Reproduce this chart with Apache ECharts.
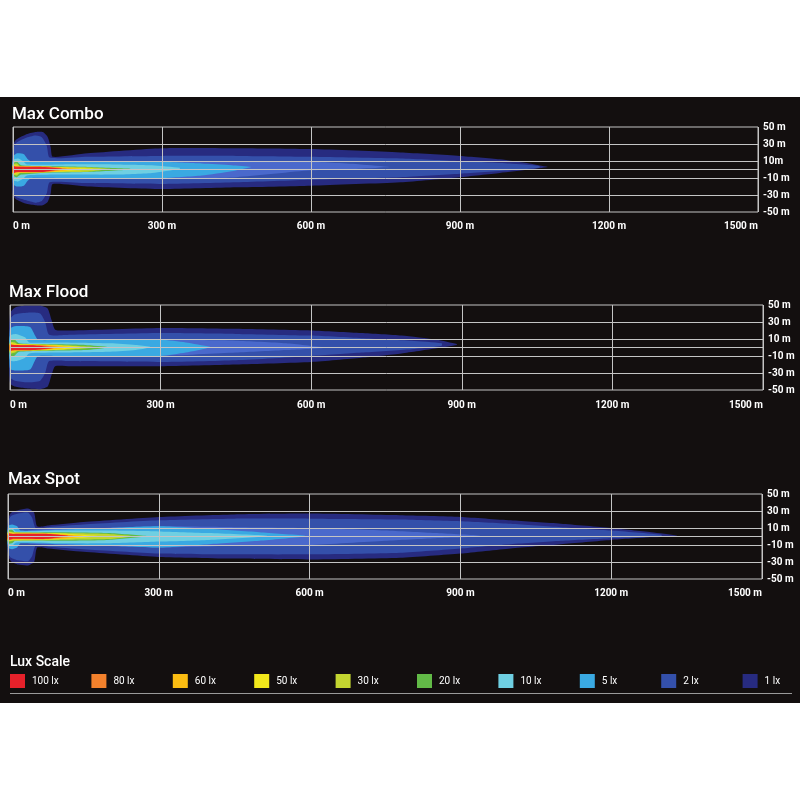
<!DOCTYPE html>
<html lang="en">
<head>
<meta charset="UTF-8">
<title>Beam pattern</title>
<style>
    body { margin: 0; background: #fff; }
    #chart { position: absolute; left: 0; top: 97px; width: 800px; height: 606px; }
</style>
</head>
<body>
<div id="chart"></div>
<script src="https://cdn.jsdelivr.net/npm/echarts@6/dist/echarts.min.js"></script>
<script>
// panel titles and axis labels
const panelTitles = ['Max Combo', 'Max Flood', 'Max Spot'];
const heightLines = [30, 10, 0, -10, -30];
const heightLabelValues = [50, 30, 10, -10, -30, -50];
const comboHeightText = ['50 m', '30 m', '10m', '-10 m', '-30 m', '-50 m'];
const otherHeightText = ['50 m', '30 m', '10 m', '-10 m', '-30 m', '-50 m'];

// contour levels, outermost first ("3 lx" is the light band that is not in the scale)
const luxNames = ['1 lx', '2 lx', '3 lx', '5 lx', '10 lx', '20 lx', '30 lx', '50 lx', '60 lx', '80 lx', '100 lx'];
const luxColors = ['#272b80', '#3450aa', '#4a69cc', '#3aa9e2', '#6fcfe2', '#62ba47', '#c3d530', '#f2e81b', '#fbbd12', '#f3812c', '#e6212a'];
const legendNames = ['100 lx', '80 lx', '60 lx', '50 lx', '30 lx', '20 lx', '10 lx', '5 lx', '2 lx', '1 lx'];

// each contour: [distance m, upper edge m, lower edge m]
const comboBeam = [
    [[0,28,-30],[6,35,-35],[25,41,-40],[45,44,-42],[60,44,-42],[70,38,-38],[76,26,-28],[80,15,-17],[150,19,-20],[300,25,-23],[450,25,-21],[600,24,-19],[780,20,-15],[900,16,-9],[980,12,-4],[1040,7,0],[1077,3,3]],
    [[0,24,-26],[6,31,-32],[25,37,-36],[45,40,-39],[58,38,-37],[68,28,-28],[74,14,-15],[150,15,-16],[300,16,-17],[450,16,-15],[600,15,-12],[780,13,-9],[900,10,-5],[1000,7,-1],[1060,4,2]],
    [[40,8,-9],[150,9,-10],[300,10,-11],[450,10,-9],[600,9,-1],[700,6,1],[760,3,3]],
    [[0,15,-17],[8,19,-20],[22,18,-19],[30,12,-13],[38,9,-10],[100,9,-10],[200,9,-10],[300,9,-10],[380,7,-7],[440,5,-2],[480,3,3]],
    [[0,11,-12],[10,13,-14],[20,10,-11],[28,6,-7],[100,6,-6],[200,6,-6],[280,5,-4],[336,2,1]],
    [[0,7,-8],[8,9,-9],[16,5,-6],[60,4,-4],[150,3,-3],[236,1,0]],
    [[0,6,-6],[8,7,-7],[14,4,-4],[80,3,-3],[150,2.5,-2.5],[195,1,0.5]],
    [[0,5,-5],[10,4,-4],[80,3,-3],[162,1,0.5]],
    [[0,4.5,-4.5],[10,3.5,-3.5],[80,3,-2.8],[135,1,0.5]],
    [[0,4,-4.5],[10,3.4,-3.2],[70,3.2,-2.8],[108,1,0.5]],
    [[0,3.8,-4.5],[6,3.2,-3],[60,3,-2.8],[98,1,0.5]]
];
const floodBeam = [
    [[0,40,-42],[10,47,-46],[30,49,-48],[60,49,-49],[75,46,-46],[83,32,-32],[90,21,-22],[120,20,-22],[300,23,-22],[450,22,-20],[600,20,-17],[700,17,-12],[780,14,-7],[850,9,-1],[890,4,3]],
    [[0,33,-35],[10,39,-39],[35,41,-41],[60,40,-39],[70,30,-30],[78,15,-16],[120,15,-16],[300,17,-17],[450,16,-15],[600,14,-10],[700,11,-6],[800,8,-2],[860,5,2]],
    [[50,7,-8],[150,8,-9],[300,9,-10],[450,8,-6],[550,5,-3],[627,0,-0.5]],
    [[0,22,-25],[10,25,-27],[40,24,-26],[50,14,-15],[56,9,-10],[100,9,-10],[200,9,-10],[300,9,-10],[350,6,-6],[398,1,0]],
    [[0,14,-15],[12,16,-16],[30,12,-12],[38,6,-7],[100,6,-6],[200,5,-5],[250,3,-3],[279,1,0]],
    [[0,8,-9],[8,10,-10],[18,5,-5],[60,4,-4],[150,3,-3],[199,0.5,0]],
    [[0,6,-7],[10,6,-6],[16,3.5,-3.5],[100,3,-3],[173,0.5,0]],
    [[0,5,-5],[10,4,-4],[80,3,-3],[146,0.5,0]],
    [[0,4.5,-4.5],[10,3.5,-3.5],[70,2.8,-2.8],[120,0.5,0]],
    [[0,4,-4],[8,3,-3],[60,2.6,-2.8],[96,0.5,0]],
    [[0,3.8,-3.8],[5,2.8,-3.2],[50,2.4,-2.8],[86,0,-0.6]]
];
const spotBeam = [
    [[0,20,-22],[6,28,-29],[20,31,-33],[40,33,-34],[52,28,-30],[58,12,-13],[80,13,-14],[150,17,-18],[300,23,-24],[450,26,-26],[600,27,-27],[780,25,-25],[900,23,-20],[1000,19,-14],[1100,15,-9],[1200,10,-4],[1280,5,-1],[1331,1,0]],
    [[0,17,-19],[6,24,-25],[20,27,-28],[40,28,-29],[48,22,-23],[55,10,-11],[80,11,-12],[150,14,-15],[300,19,-20],[450,21,-21],[600,21,-21],[780,20,-19],[900,18,-14],[1000,15,-9],[1100,11,-5],[1200,7,-2],[1300,2,0]],
    [[40,7,-8],[150,9,-10],[300,12,-13],[450,11,-11],[600,10,-10],[750,7,-5],[850,4,-2],[939,1,0]],
    [[0,12,-13],[8,14,-15],[18,12,-13],[25,7,-8],[100,8,-9],[200,10,-11],[300,12,-13],[400,9,-9],[500,5,-5],[591,1,0]],
    [[0,9,-10],[8,10,-11],[16,6,-7],[100,7,-8],[200,7,-8],[300,6,-6],[400,4,-4],[515,1,0]],
    [[0,7,-8],[8,8,-8],[14,5,-5],[100,5,-5],[200,4,-4],[276,0.5,0]],
    [[0,6,-6],[10,5,-5],[100,4,-4],[200,3,-3],[250,0.5,0]],
    [[0,5,-5],[10,4,-4],[100,3.5,-3],[183,0.5,0]],
    [[0,4,-4.5],[10,3.5,-3.5],[100,3,-3],[156,0.5,0]],
    [[0,3.5,-4],[10,3.2,-3.2],[80,3.2,-3],[129,0.8,0]],
    [[0,3.2,-3.8],[8,3,-2.8],[80,3,-2.6],[119,1,0.5]]
];

const beams = [comboBeam, floodBeam, spotBeam];
const heightTexts = [comboHeightText, otherHeightText, otherHeightText];

// grid placement (pixels inside the dark band)
const gridBoxes = [
    {left: 13, top: 30, width: 745, height: 85},
    {left: 10, top: 208, width: 753, height: 85},
    {left: 8, top: 397, width: 754, height: 85}
];
const titleBoxes = [{left: 7, top: 4}, {left: 4, top: 182}, {left: 3, top: 369}];
const xLabelMargin = [9, 10, 9];

const lineColor = '#c4c4c4';
const font = 'Roboto';

let myChart = echarts.init(document.getElementById('chart'));

// draw one contour as a closed polygon: upper edge out, lower edge back
function beamShape(params, api) {
    if (params.dataIndex !== 0) return null;
    let n = params.dataInsideLength;
    let upper = [], lower = [];
    for (let i = 0; i < n; i++) {
        upper.push(api.coord([api.value(0, i), api.value(1, i)]));
        lower.push(api.coord([api.value(0, i), api.value(2, i)]));
    }
    return {
        type: 'polygon',
        shape: {points: upper.concat(lower.reverse()), smooth: 0.2},
        style: {fill: api.visual('color')}
    };
}

let grids = [], xAxes = [], yAxes = [], series = [], titles = [];

gridBoxes.forEach(function (box, p) {
    grids.push(Object.assign({
        show: true, borderColor: lineColor, borderWidth: 1, backgroundColor: 'transparent'
    }, box));

    xAxes.push({
        type: 'value', gridIndex: p, min: 0, max: 1500, interval: 300, z: 10,
        axisLine: {show: false}, axisTick: {show: false},
        splitLine: {show: true, lineStyle: {color: lineColor, width: 1}},
        axisLabel: {
            color: '#fff', fontSize: 10, fontWeight: 'bold', fontFamily: font,
            margin: xLabelMargin[p], alignMinLabel: 'left', alignMaxLabel: 'right',
            formatter: function (v) { return v + ' m'; }
        }
    });

    yAxes.push({
        type: 'value', gridIndex: p, position: 'right', min: -50, max: 50, interval: 10,
        axisLine: {show: false}, axisTick: {show: false}, splitLine: {show: false},
        axisLabel: {
            color: '#fff', fontSize: 10, fontWeight: 'bold', fontFamily: font, margin: 5,
            formatter: function (v) {
                let k = heightLabelValues.indexOf(v);
                return k < 0 ? '' : heightTexts[p][k];
            }
        }
    });

    beams[p].forEach(function (profile, l) {
        series.push({
            type: 'custom',
            name: luxNames[l],
            xAxisIndex: p, yAxisIndex: p,
            encode: {x: 0, y: [1, 2]},
            itemStyle: {color: luxColors[l]},
            silent: true,
            renderItem: beamShape,
            data: profile
        });
    });

    // horizontal guide lines drawn above the beam
    series.push({
        type: 'line', name: 'guides' + p, xAxisIndex: p, yAxisIndex: p, data: [],
        markLine: {
            silent: true, symbol: 'none', animation: false,
            label: {show: false},
            lineStyle: {color: lineColor, width: 1, type: 'solid'},
            data: heightLines.map(function (v) { return {yAxis: v}; })
        }
    });

    titles.push(Object.assign({
        text: panelTitles[p],
        textStyle: {color: '#fff', fontSize: 17, fontWeight: 500, fontFamily: font}
    }, titleBoxes[p]));
});

titles.push({
    text: 'Lux Scale', left: 5, top: 553,
    textStyle: {color: '#fff', fontSize: 14, fontWeight: 500, fontFamily: font}
});

let legends = legendNames.map(function (name, i) {
    return {
        data: [name], left: 10 + i * 81.4, top: 577, padding: 0,
        icon: 'rect', itemWidth: 15, itemHeight: 14, itemGap: 0,
        selectedMode: false,
        textStyle: {color: '#fff', fontSize: 10, fontFamily: font, padding: [0, 0, 0, 2]}
    };
});

myChart.setOption({
    backgroundColor: '#130f0f',
    animation: false,
    title: titles,
    legend: legends,
    grid: grids,
    xAxis: xAxes,
    yAxis: yAxes,
    series: series,
    graphic: [{
        type: 'line', silent: true,
        shape: {x1: 10, y1: 596.5, x2: 792, y2: 596.5},
        style: {stroke: '#9a9a9a', lineWidth: 1}
    }]
});
</script>
</body>
</html>
